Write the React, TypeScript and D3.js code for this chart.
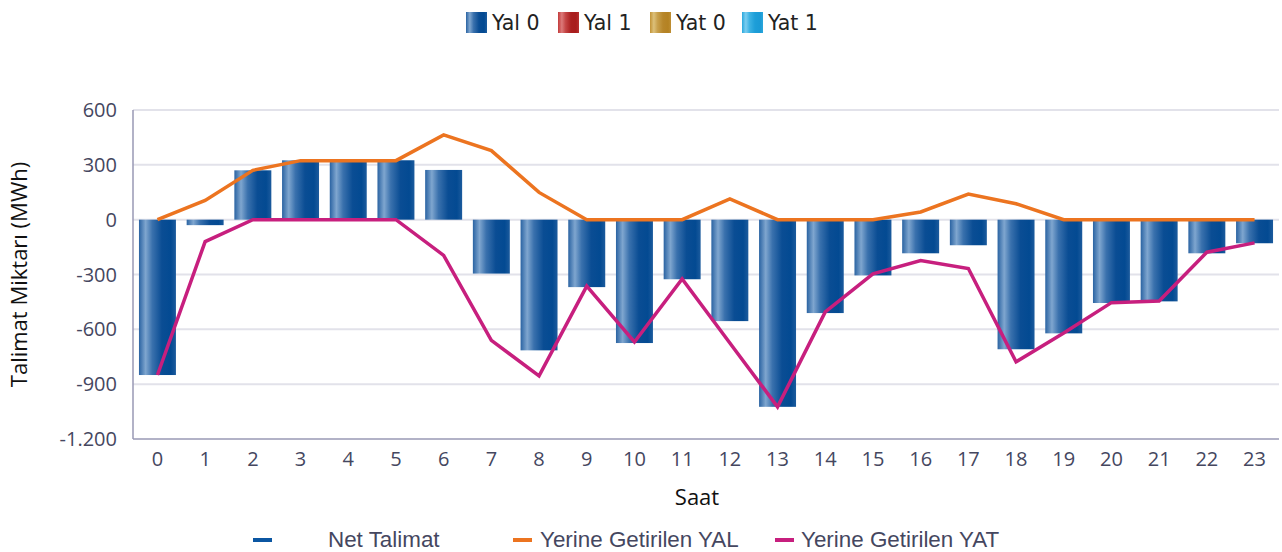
import React from "react";
import {scaleBand, scaleLinear, line} from "d3";

// saat (x ekseni)
const hours = ["0", "1", "2", "3", "4", "5", "6", "7", "8", "9", "10", "11",
    "12", "13", "14", "15", "16", "17", "18", "19", "20", "21", "22", "23"];

// Net Talimat (bars)
const netTalimat = [-850, -30, 270, 325, 320, 325, 272, -295, -715, -369, -675, -326,
    -555, -1024, -511, -305, -184, -140, -709, -622, -456, -447, -184, -129];

// Yerine Getirilen YAL
const yerineYal = [0, 105, 270, 323, 323, 323, 464, 378, 149, 0, 0, 0,
    114, 0, 0, 0, 42, 140, 87, 0, 0, 0, 0, 0];

// Yerine Getirilen YAT
const yerineYat = [-850, -120, 0, 0, 0, 0, -195, -660, -855, -364, -669, -324,
    -675, -1024, -505, -296, -224, -267, -778, -620, -454, -445, -178, -127];

const yTicks = [600, 300, 0, -300, -600, -900, -1200];

const topLegend = [
    {name: "Yal 0", id: "gBlue"},
    {name: "Yal 1", id: "gRed"},
    {name: "Yat 0", id: "gGold"},
    {name: "Yat 1", id: "gCyan"},
];

const bottomLegend = [
    {name: "Net Talimat", color: "#0b56a2"},
    {name: "Yerine Getirilen YAL", color: "#ec7420"},
    {name: "Yerine Getirilen YAT", color: "#c71f7e"},
];

const W = 1282;
const H = 552;
const margin = {left: 133, right: 3, top: 110, bottom: 113};

const fmt = (v: number) => {
    // turkish style thousands separator
    const s = Math.abs(v).toString().replace(/\B(?=(\d{3})+(?!\d))/g, ".");
    return v < 0 ? "-" + s : s;
};

function Grad({id, stops}: {id: string, stops: string[]}) {
    const offs = [0, 0.18, 0.36, 0.62, 0.86, 1];
    return (
        <linearGradient id={id} x1="0" x2="1" y1="0" y2="0">
            {stops.map((c, i) => <stop key={i} offset={offs[i]} stopColor={c}/>)}
        </linearGradient>
    );
}

export default function App() {
    const x = scaleBand<string>()
        .domain(hours)
        .range([margin.left, W - margin.right])
        .paddingInner(0.225)
        .paddingOuter(0.125);

    const y = scaleLinear()
        .domain([-1200, 600])
        .range([H - margin.bottom, margin.top]);

    const cx = (i: number) => (x(hours[i]) as number) + x.bandwidth() / 2;

    const lineGen = line<number>()
        .x((d, i) => cx(i))
        .y(d => y(d));

    const axisColor = "#9899b4";
    const textColor = "#45475f";
    const font = "'Open Sans', sans-serif";

    const legendX = [466, 558, 650, 742];
    const bottomDashX = [253, 513, 775];
    const bottomTextX = [328, 540, 801];

    return (
        <svg width={W} height={H} style={{position: "absolute", left: 0, top: 0}}>
            <defs>
                <Grad id="gBlue" stops={["#2a63a2", "#7fa6cf", "#3a71ad", "#0a4d94", "#034a92", "#1c5b9d"]}/>
                <Grad id="gRed" stops={["#c23a3a", "#dc7a7a", "#c54646", "#aa1f1f", "#a81c1c", "#b83030"]}/>
                <Grad id="gGold" stops={["#c29336", "#dcc07a", "#c8a04c", "#b7862a", "#b48222", "#bf8f34"]}/>
                <Grad id="gCyan" stops={["#2aa8dd", "#7acdf0", "#3db2e3", "#1d9ed8", "#1a9ad5", "#2aa6dc"]}/>
            </defs>

            {/* top legend */}
            {topLegend.map((d, i) => (
                <g key={d.name}>
                    <rect x={legendX[i]} y={12} width={21} height={21} fill={`url(#${d.id})`}/>
                    <text x={legendX[i] + 26} y={29.5} fontFamily="'DejaVu Sans', sans-serif"
                          fontSize={20.5} fill="#222">{d.name}</text>
                </g>
            ))}

            {/* gridlines */}
            {yTicks.map(t => (
                <line key={t} x1={margin.left} x2={W - margin.right} y1={y(t)} y2={y(t)}
                      stroke={t === -1200 ? axisColor : "#e2e2ea"} strokeWidth={t === -1200 ? 1.5 : 2}/>
            ))}
            <line x1={margin.left} x2={margin.left} y1={y(600)} y2={y(-1200)} stroke={axisColor} strokeWidth={1.5}/>

            {/* y tick labels */}
            {yTicks.map(t => (
                <text key={t} x={117} y={y(t) + 7} textAnchor="end" fontFamily={font}
                      fontSize={20} fill={textColor}>{fmt(t)}</text>
            ))}

            {/* x tick labels */}
            {hours.map((h, i) => (
                <text key={h} x={cx(i)} y={466} textAnchor="middle" fontFamily={font}
                      fontSize={20} fill={textColor}>{h}</text>
            ))}

            {/* bars */}
            {netTalimat.map((v, i) => (
                <rect key={i} x={x(hours[i])} width={x.bandwidth()}
                      y={Math.min(y(v), y(0))} height={Math.abs(y(v) - y(0))}
                      fill="url(#gBlue)"/>
            ))}

            {/* lines */}
            <path d={lineGen(yerineYal) || ""} fill="none" stroke="#ec7420" strokeWidth={3.5}/>
            <path d={lineGen(yerineYat) || ""} fill="none" stroke="#c71f7e" strokeWidth={3.5}/>

            {/* axis titles */}
            <text transform={`translate(27, ${(y(600) + y(-1200)) / 2}) rotate(-90)`} textAnchor="middle"
                  fontFamily={font} fontSize={22} fill="#111">Talimat Miktarı (MWh)</text>
            <text x={697} y={505} textAnchor="middle" fontFamily={font} fontSize={22} fill="#111">Saat</text>

            {/* bottom legend */}
            {bottomLegend.map((d, i) => (
                <g key={d.name}>
                    <rect x={bottomDashX[i]} y={538} width={19} height={4} fill={d.color}/>
                    <text x={bottomTextX[i]} y={547} fontFamily="'Liberation Sans', Arial, sans-serif"
                          fontSize={22.4} fill={textColor}>{d.name}</text>
                </g>
            ))}
        </svg>
    );
}
